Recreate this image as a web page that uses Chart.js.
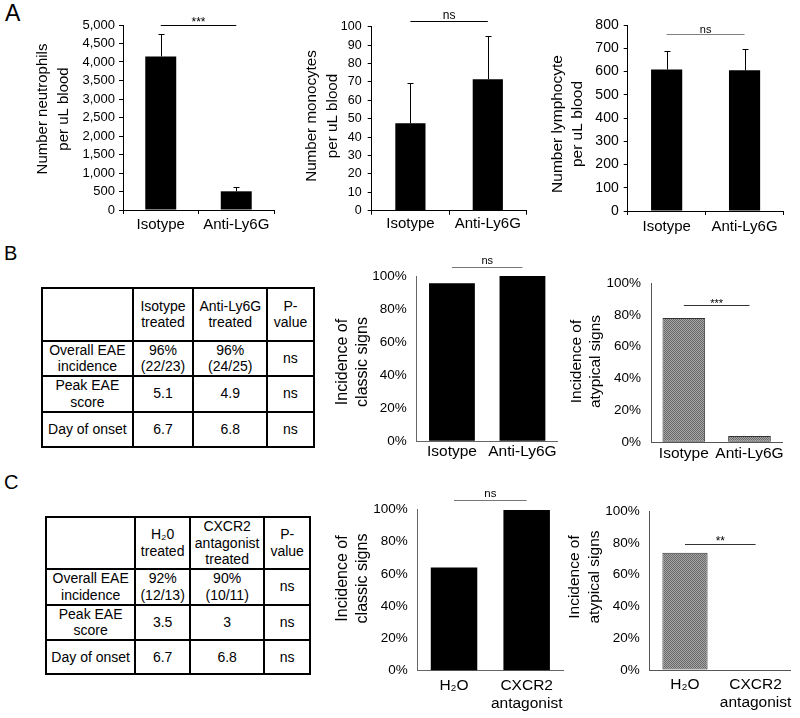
<!DOCTYPE html>
<html lang="en">
<head>
<meta charset="utf-8" />
<title>Neutrophil depletion / CXCR2 blockade and EAE</title>
<script src="https://cdn.jsdelivr.net/npm/chart.js@4.4.4/dist/chart.umd.min.js"></script>
<style>
  body { margin: 0; background: #fff; font-family: "Liberation Sans", Arial, sans-serif; }
  #fig { position: relative; width: 800px; height: 718px; overflow: hidden; background: #fff; }
  #fig canvas { position: absolute; }
  .panel { position: absolute; line-height: 1; color: #000; }
  table.stats {
    position: absolute; border-collapse: collapse; table-layout: fixed;
    font-size: 14px; line-height: 16.7px; text-align: center; color: #000;
  }
  table.stats td { border: 2px solid #000; padding: 0; vertical-align: middle; white-space: pre-line; overflow: hidden; }
</style>
</head>
<body>
<div id="fig">
  <div class="panel" style="left:5px;top:2px;font-size:23px">A</div>
  <div class="panel" style="left:4px;top:243px;font-size:20px">B</div>
  <div class="panel" style="left:4px;top:472px;font-size:20px">C</div>

  <canvas id="cNeut"></canvas>
  <canvas id="cMono"></canvas>
  <canvas id="cLymph"></canvas>

  <table id="tabB" class="stats" style="left:41px;top:287px"></table>
  <canvas id="cClassicB"></canvas>
  <canvas id="cAtypB"></canvas>

  <table id="tabC" class="stats" style="left:45px;top:516px"></table>
  <canvas id="cClassicC"></canvas>
  <canvas id="cAtypC"></canvas>
</div>

<script>
  // ---- data ----
  const groupsA = ['Isotype', 'Anti-Ly6G'];
  const neutrophils = [4150, 505];
  const neutrophilsErr = [600, 110];
  const monocytes = [47.5, 71.5];
  const monocytesErr = [22, 23.5];
  const lymphocytes = [609, 605];
  const lymphocytesErr = [79, 90];

  const classicLy6G = [95.6, 100];
  const atypicalLy6G = [78, 4];

  const groupsC = ['H₂O', ['CXCR2', 'antagonist']];
  const classicCXCR2 = [64, 99.5];
  const atypicalCXCR2 = [73.8, 0];

  const tableBHead = ['', 'Isotype\ntreated', 'Anti-Ly6G\ntreated', 'P-\nvalue'];
  const tableBRows = [
    ['Overall EAE\nincidence', '96%\n(22/23)', '96%\n(24/25)', 'ns'],
    ['Peak EAE\nscore', '5.1', '4.9', 'ns'],
    ['Day of onset', '6.7', '6.8', 'ns']
  ];
  const tableCHead = ['', 'H₂0\ntreated', 'CXCR2\nantagonist\ntreated', 'P-\nvalue'];
  const tableCRows = [
    ['Overall EAE\nincidence', '92%\n(12/13)', '90%\n(10/11)', 'ns'],
    ['Peak EAE\nscore', '3.5', '3', 'ns'],
    ['Day of onset', '6.7', '6.8', 'ns']
  ];

  // ---- tables ----
  function buildTable(id, head, rows, colW, rowH) {
    const t = document.getElementById(id);
    t.style.width = colW.reduce((a, b) => a + b, 0) + 'px';
    let html = '<colgroup>' + colW.map(w => `<col style="width:${w}px">`).join('') + '</colgroup>';
    [head, ...rows].forEach((r, i) => {
      html += `<tr style="height:${rowH[i]}px">` + r.map(c => `<td>${c}</td>`).join('') + '</tr>';
    });
    t.innerHTML = html;
  }
  buildTable('tabB', tableBHead, tableBRows, [90.7, 60.6, 74, 46.4], [52.6, 35, 35.7, 35]);
  buildTable('tabC', tableCHead, tableCRows, [89.3, 54.7, 74.3, 45.7], [51, 34.3, 34.7, 34.3]);

  // ---- charts ----
  const FONT = '"Liberation Sans", Arial, sans-serif';
  Chart.defaults.font.family = FONT;
  Chart.defaults.color = '#000';
  Chart.defaults.animation = false;

  // y title, error bars, significance bracket
  const marks = {
    id: 'marks',
    afterDraw(chart, args, o) {
      const { ctx, scales: { y } } = chart;
      const meta = chart.getDatasetMeta(0);
      const vals = chart.data.datasets[0].data;
      ctx.save();
      ctx.lineWidth = 1;
      if (o.err) {
        ctx.strokeStyle = '#000';
        meta.data.forEach((bar, i) => {
          const xc = Math.round(bar.x) + 0.5;
          const yt = Math.round(y.getPixelForValue(vals[i] + o.err[i])) + 0.5;
          ctx.beginPath();
          ctx.moveTo(xc, bar.y);
          ctx.lineTo(xc, yt);
          ctx.moveTo(xc - 3, yt);
          ctx.lineTo(xc + 3, yt);
          ctx.stroke();
        });
      }
      if (o.sig) {
        const yl = Math.round(y.getPixelForValue(o.sig.at)) + 0.5;
        const xa = meta.data[0].x, xb = meta.data[1].x;
        ctx.strokeStyle = o.sig.color;
        ctx.beginPath();
        ctx.moveTo(xa, yl);
        ctx.lineTo(xb, yl);
        ctx.stroke();
        ctx.fillStyle = '#000';
        ctx.font = o.sig.size + 'px ' + FONT;
        ctx.textAlign = 'center';
        ctx.textBaseline = 'alphabetic';
        ctx.fillText(o.sig.text, (xa + xb) / 2, yl - o.sig.gap);
      }
      if (o.title) {
        const t = o.title;
        ctx.fillStyle = '#000';
        ctx.font = t.size + 'px ' + FONT;
        ctx.textAlign = 'center';
        ctx.textBaseline = 'middle';
        t.lines.forEach((line, i) => {
          ctx.save();
          ctx.translate(t.x + i * t.gap, t.y);
          ctx.rotate(-Math.PI / 2);
          ctx.fillText(line, 0, 0);
          ctx.restore();
        });
      }
      ctx.restore();
    }
  };

  function stipple() {
    const c = document.createElement('canvas');
    c.width = 2; c.height = 2;
    const p = c.getContext('2d');
    p.fillStyle = '#a4a4a4';
    p.fillRect(0, 0, 2, 2);
    p.fillStyle = '#6a6a6a';
    p.fillRect(0, 0, 1, 1);
    p.fillRect(1, 1, 1, 1);
    return p.createPattern(c, 'repeat');
  }
  const grayFill = stipple();

  function barChart(id, g, labels, values, extra) {
    const L = Math.floor(g.titleX - 12);
    const T = Math.floor(g.y0 - g.padTop);
    const R = Math.ceil(g.x1 + g.padRight);
    const B = Math.ceil(g.y1 + g.xh);
    const cv = document.getElementById(id);
    cv.width = R - L;
    cv.height = B - T;
    cv.style.left = L + 'px';
    cv.style.top = T + 'px';

    const ticksOn = g.ticks;
    return new Chart(cv, {
      type: 'bar',
      data: {
        labels: labels,
        datasets: [{
          data: values,
          backgroundColor: extra.fill,
          borderColor: extra.border || extra.fill,
          borderWidth: extra.border ? 1 : 0,
          borderSkipped: false,
          barPercentage: g.bar,
          categoryPercentage: 1
        }]
      },
      options: {
        responsive: false,
        layout: { padding: { left: 0, top: g.y0 - T, right: R - g.x1, bottom: B - g.y1 - g.xh } },
        plugins: {
          legend: { display: false },
          tooltip: { enabled: false },
          marks: {
            err: extra.err, sig: extra.sig,
            title: { lines: g.title, size: g.titleSize, gap: g.titleGap, x: g.titleX - L, y: g.titleY - T }
          }
        },
        scales: {
          x: {
            grid: { drawOnChartArea: false, drawTicks: ticksOn, tickLength: 4, color: g.axis },
            border: { color: g.axis, width: 1 },
            ticks: { font: { size: g.xSize, lineHeight: g.xLH }, padding: g.xPad, maxRotation: 0, autoSkip: false },
            afterFit: s => { s.height = g.xh; }
          },
          y: {
            min: 0, max: g.max,
            grid: { drawOnChartArea: false, drawTicks: ticksOn, tickLength: 4, color: g.axis },
            border: { color: g.axis, width: 1 },
            ticks: { stepSize: g.step, autoSkip: false, font: { size: g.ySize }, padding: g.yPad, callback: g.fmt },
            afterFit: s => { s.width = g.x0 - L; }
          }
        }
      },
      plugins: [marks]
    });
  }

  const fmtNum = v => v.toLocaleString('en-US');
  const fmtPct = v => v + '%';

  // A: blood counts
  barChart('cNeut', {
    x0: 123, x1: 274, y0: 25, y1: 210, padTop: 14, padRight: 8, xh: 30,
    titleX: 42.7, titleY: 109, titleGap: 21, titleSize: 15, title: ['Number neutrophils', 'per uL blood'],
    max: 5000, step: 500, fmt: fmtNum, ySize: 13, yPad: 4, xSize: 15, xLH: 1.2, xPad: 2,
    ticks: true, axis: '#000', bar: 0.41
  }, groupsA, neutrophils, {
    fill: '#000', err: neutrophilsErr,
    sig: { at: 4990, text: '***', size: 12, gap: 0, color: '#000' }
  });

  barChart('cMono', {
    x0: 371.7, x1: 526.5, y0: 26.7, y1: 210.7, padTop: 18, padRight: 8, xh: 30,
    titleX: 312, titleY: 116, titleGap: 21, titleSize: 15.2, title: ['Number monocytes', 'per uL blood'],
    max: 100, step: 10, fmt: fmtNum, ySize: 12.5, yPad: 6, xSize: 15, xLH: 1.2, xPad: 0,
    ticks: true, axis: '#000', bar: 0.39
  }, groupsA, monocytes, {
    fill: '#000', err: monocytesErr,
    sig: { at: 103, text: 'ns', size: 12, gap: 3, color: '#000' }
  });

  barChart('cLymph', {
    x0: 627.7, x1: 783.5, y0: 25, y1: 211, padTop: 14, padRight: 8, xh: 30,
    titleX: 558, titleY: 124, titleGap: 20, titleSize: 15.5, title: ['Number lymphocyte', 'per uL blood'],
    max: 800, step: 100, fmt: fmtNum, ySize: 14, yPad: 5, xSize: 15, xLH: 1.2, xPad: 3,
    ticks: true, axis: '#000', bar: 0.4
  }, groupsA, lymphocytes, {
    fill: '#000', err: lymphocytesErr,
    sig: { at: 763, text: 'ns', size: 11, gap: 2, color: '#808080' }
  });

  // B: anti-Ly6G incidence
  barChart('cClassicB', {
    x0: 416.7, x1: 557.7, y0: 276, y1: 441.3, padTop: 20, padRight: 8, xh: 30,
    titleX: 342.7, titleY: 362, titleGap: 20, titleSize: 16, title: ['Incidence of', 'classic signs'],
    max: 100, step: 20, fmt: fmtPct, ySize: 13.5, yPad: 10, xSize: 15.5, xLH: 1.2, xPad: 1,
    ticks: false, axis: '#666', bar: 0.65
  }, groupsA, classicLy6G, {
    fill: '#000',
    sig: { at: 105.6, text: 'ns', size: 11, gap: 4, color: '#777' }
  });

  barChart('cAtypB', {
    x0: 651, x1: 782.3, y0: 279, y1: 442.3, padTop: 14, padRight: 8, xh: 30,
    titleX: 577, titleY: 361.5, titleGap: 19, titleSize: 15.5, title: ['Incidence of', 'atypical signs'],
    max: 100, step: 20, fmt: fmtPct, ySize: 13.5, yPad: 10, xSize: 15.5, xLH: 1.2, xPad: 2,
    ticks: false, axis: '#555', bar: 0.65
  }, groupsA, atypicalLy6G, {
    fill: grayFill, border: '#333',
    sig: { at: 86.1, text: '***', size: 11, gap: -1, color: '#333' }
  });

  // C: CXCR2 antagonist incidence
  barChart('cClassicC', {
    x0: 417.7, x1: 563, y0: 509.3, y1: 670.7, padTop: 20, padRight: 10, xh: 45,
    titleX: 343, titleY: 578.5, titleGap: 20, titleSize: 16, title: ['Incidence of', 'classic signs'],
    max: 100, step: 20, fmt: fmtPct, ySize: 13.5, yPad: 10, xSize: 15.5, xLH: 1.16, xPad: 6,
    ticks: false, axis: '#666', bar: 0.64
  }, groupsC, classicCXCR2, {
    fill: '#000',
    sig: { at: 105.8, text: 'ns', size: 11.5, gap: 4, color: '#777' }
  });

  barChart('cAtypC', {
    x0: 649.7, x1: 790.9, y0: 507.3, y1: 670, padTop: 14, padRight: 9, xh: 45,
    titleX: 575, titleY: 577, titleGap: 20, titleSize: 15.5, title: ['Incidence of', 'atypical signs'],
    max: 100, step: 20, fmt: fmtPct, ySize: 13.5, yPad: 10, xSize: 15.5, xLH: 1.16, xPad: 6,
    ticks: false, axis: '#555', bar: 0.64
  }, groupsC, atypicalCXCR2, {
    fill: grayFill, border: '#333',
    sig: { at: 79.3, text: '**', size: 12, gap: 0, color: '#333' }
  });
</script>
</body>
</html>
